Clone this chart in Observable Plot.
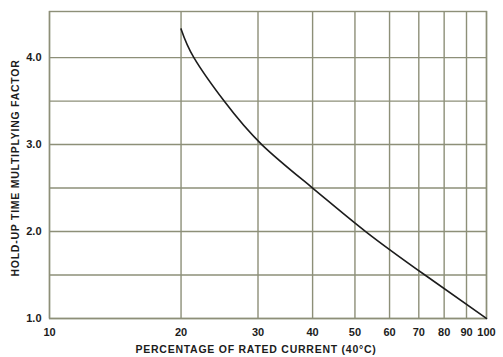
<!DOCTYPE html>
<html>
<head>
<meta charset="utf-8">
<script src="https://cdn.jsdelivr.net/npm/d3@7"></script>
<script src="https://cdn.jsdelivr.net/npm/@observablehq/plot@0.6"></script>
<style>
  html, body { margin: 0; padding: 0; background: #fff; }
  svg { display: block; }
</style>
</head>
<body>
<div id="chart"></div>
<script>
// Data (points where the curve crosses grid lines)
const currentPct = [20, 21.4, 25.1, 30.6, 40, 52.9, 72.3, 100];
const factor     = [4.33, 4.0, 3.5, 3.0, 2.5, 2.0, 1.5, 1.0];
const xTicks = [10, 20, 30, 40, 50, 60, 70, 80, 90, 100];
const yGrid = [1.0, 1.5, 2.0, 2.5, 3.0, 3.5, 4.0];
const yTicks = [1.0, 2.0, 3.0, 4.0];
const xLabel = "PERCENTAGE OF RATED CURRENT (40°C)";
const yLabel = "HOLD-UP TIME MULTIPLYING FACTOR";

const data = currentPct.map((x, i) => ({x, y: factor[i]}));
const gridColor = "#8d8f78";
const ink = "#1c1c1c";

const chart = Plot.plot({
  width: 503,
  height: 357,
  marginLeft: 49,
  marginRight: 17,
  marginTop: 11,
  marginBottom: 39,
  style: {fontFamily: "'Liberation Sans', Arial, sans-serif", fontWeight: "bold", fontSize: "10.5px", color: ink, background: "#fff"},
  x: {type: "log", domain: [10, 100], axis: null},
  y: {domain: [1, 4.53], axis: null},
  marks: [
    Plot.ruleX(xTicks, {stroke: gridColor, strokeWidth: 1.4, strokeOpacity: 1}),
    Plot.ruleY(yGrid, {stroke: gridColor, strokeWidth: 1.4, strokeOpacity: 1}),
    Plot.frame({stroke: gridColor, strokeWidth: 1.4}),
    Plot.text(xTicks, {x: d => d, frameAnchor: "bottom", lineAnchor: "top", dy: 10,
      text: d => String(d), fill: ink, fontWeight: "bold", fontSize: 11}),
    Plot.text(yTicks, {y: d => d, frameAnchor: "left", textAnchor: "end", dx: -8,
      text: d => d3.format(".1f")(d), fill: ink, fontWeight: "bold", fontSize: 11}),
    Plot.line(data, {x: "x", y: "y", curve: "natural", stroke: ink, strokeWidth: 1.6})
  ]
});

const svg = d3.select(chart);
svg.append("text")
  .attr("x", 256).attr("y", 353)
  .attr("text-anchor", "middle")
  .attr("font-size", 10.5).attr("font-weight", "bold")
  .attr("letter-spacing", "0.75px")
  .attr("fill", ink)
  .text(xLabel);
svg.append("text")
  .attr("transform", "translate(19,168) rotate(-90)")
  .attr("text-anchor", "middle")
  .attr("font-size", 10.5).attr("font-weight", "bold")
  .attr("letter-spacing", "0.75px")
  .attr("fill", ink)
  .text(yLabel);

document.getElementById("chart").appendChild(chart);
</script>
</body>
</html>
